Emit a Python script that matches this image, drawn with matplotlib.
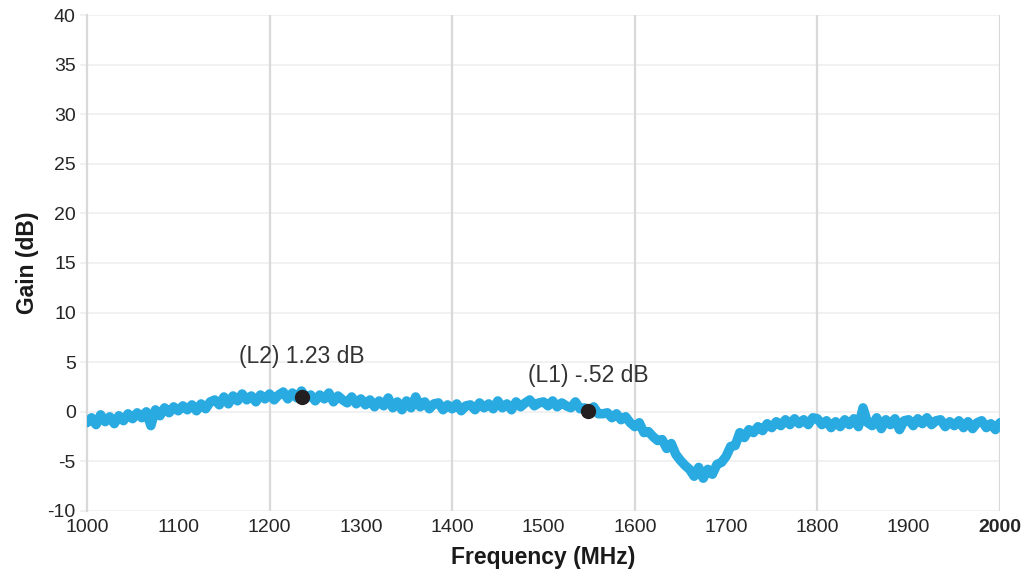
import numpy as np
import matplotlib
matplotlib.use("Agg")
import matplotlib.pyplot as plt

plt.rcParams['font.family'] = ['Liberation Sans', 'DejaVu Sans']
plt.rcParams['axes.unicode_minus'] = False

# frequency sweep, 5 MHz steps
freq = list(range(1000, 2001, 5))
gain = [
    -1.1, -0.6, -1.3, -0.3, -1.0, -0.5, -1.2, -0.4, -0.9, -0.2,
    -0.7, -0.1, -0.6, 0.0, -1.4, 0.2, -0.4, 0.4, -0.1, 0.5,
    0.1, 0.6, 0.2, 0.7, 0.1, 0.8, 0.3, 1.0, 1.2, 0.7,
    1.5, 0.8, 1.6, 1.1, 1.8, 1.2, 1.6, 1.0, 1.7, 1.3,
    1.8, 1.2, 1.7, 2.0, 1.3, 1.9, 1.4, 2.1, 1.4, 1.7,
    1.1, 1.7, 1.3, 1.9, 1.0, 1.6, 1.2, 0.9, 1.5, 0.8,
    1.3, 0.7, 1.2, 0.5, 1.1, 0.6, 1.4, 0.4, 1.0, 0.2,
    1.1, 0.4, 1.5, 0.5, 1.0, 0.3, 0.8, 0.9, 0.2, 0.7,
    0.3, 0.8, 0.1, 0.6, 0.7, 0.2, 0.9, 0.4, 0.8, 0.3,
    1.1, 0.4, 0.8, 0.2, 1.0, 0.5, 0.9, 1.2, 0.6, 0.9,
    1.0, 0.6, 1.1, 0.5, 0.9, 0.6, 0.4, 1.0, 0.3, 0.4,
    0.1, 0.5, -0.2, -0.2, -0.1, -0.6, -0.2, -0.8, -0.5, -1.1,
    -1.5, -1.1, -2.1, -2.0, -2.5, -2.9, -2.8, -3.7, -3.2, -4.3,
    -4.9, -5.4, -5.8, -6.5, -5.6, -6.7, -5.8, -6.3, -5.3, -5.1,
    -4.5, -3.5, -3.4, -2.1, -2.6, -1.8, -2.1, -1.5, -1.9, -1.2,
    -1.6, -1.0, -1.4, -0.8, -1.3, -0.7, -1.2, -0.8, -1.3, -0.6,
    -0.7, -1.3, -0.9, -1.6, -1.0, -1.5, -0.8, -1.3, -0.7, -1.5,
    0.4, -1.1, -1.4, -0.6, -1.7, -0.8, -1.3, -0.7, -1.8, -0.9,
    -0.8, -1.4, -0.7, -1.2, -0.6, -1.3, -0.9, -0.8, -1.5, -1.0,
    -1.4, -0.9, -1.6, -1.0, -1.7, -1.1, -0.9, -1.6, -1.2, -1.8,
    -1.1,
]

marker_x = [1235, 1549]
marker_y = [1.5, 0.1]
marker_text = ["(L2) 1.23 dB", "(L1) -.52 dB"]
text_y = [5.6, 3.7]

xticks = list(range(1000, 2001, 100))
yticks = list(range(-10, 41, 5))
vgrid = [1200, 1400, 1600, 1800, 2000]

fig = plt.figure(figsize=(10.29, 5.77), dpi=100)
ax = fig.add_axes([0.0845, 0.1144, 0.8873, 0.8596])

for y in yticks:
    ax.axhline(y, color='#f0f0f0', lw=1.3, zorder=0)
for x in vgrid:
    ax.axvline(x, color='#d9d9d9', lw=1.6, zorder=1)

ax.plot(freq, gain, color='#29abe2', lw=6.8, solid_capstyle='round',
        solid_joinstyle='round', zorder=3)
ax.plot(marker_x, marker_y, 'o', color='#231f20', ms=10, zorder=4)
for x, y, t in zip(marker_x, text_y, marker_text):
    ax.text(x, y, t, ha='center', va='center', fontsize=16.5, color='#333333')

ax.set_xlim(1000, 2000)
ax.set_ylim(-10, 40)
ax.set_xticks(xticks)
ax.set_yticks(yticks)
ax.tick_params(axis='x', length=0, labelsize=14, colors='#262626', pad=6)
ax.tick_params(axis='y', length=5, width=1.3, color='#f0f0f0',
               labelsize=14, labelcolor='#262626', pad=3)
ax.get_xticklabels()[-1].set_fontweight('bold')

for s in ['top', 'right', 'bottom']:
    ax.spines[s].set_visible(False)
ax.spines['left'].set_color('#d9d9d9')
ax.spines['left'].set_linewidth(1.6)

ax.set_xlabel('Frequency (MHz)', fontsize=16.5, fontweight='bold',
              color='#1a1a1a', labelpad=7)
ax.set_ylabel('Gain (dB)', fontsize=16.5, fontweight='bold',
              color='#1a1a1a', labelpad=6)

fig.savefig('out.png', dpi=100)
